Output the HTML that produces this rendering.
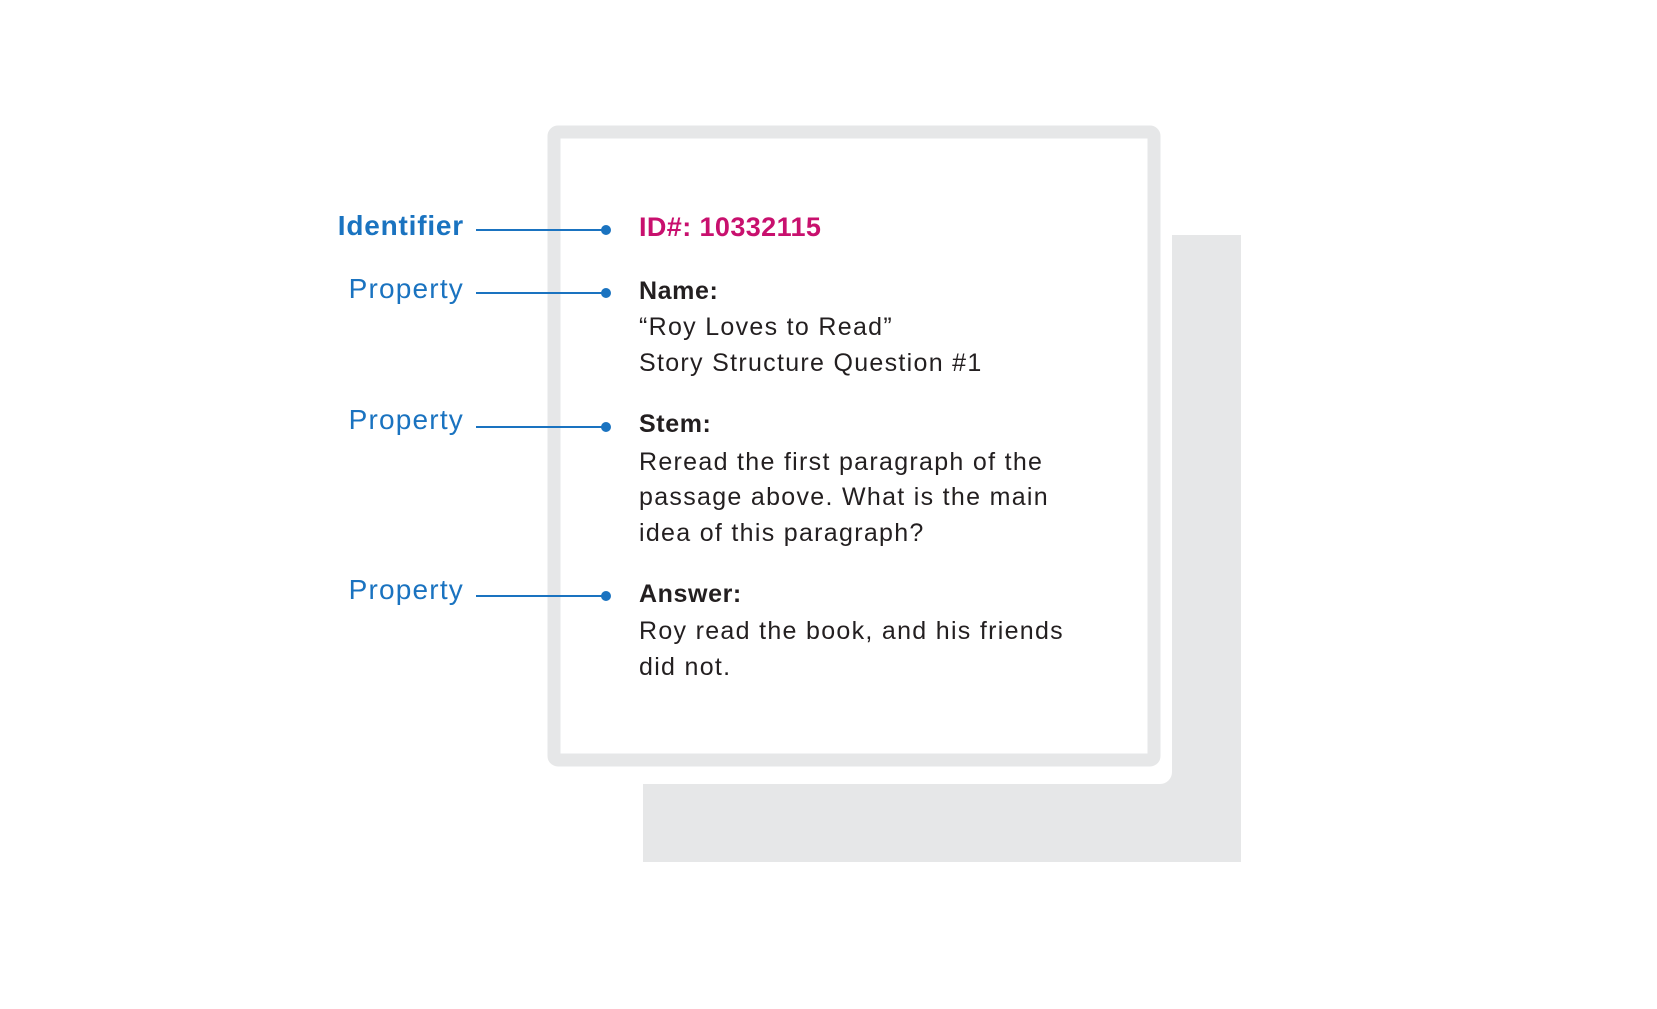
<!DOCTYPE html>
<html><head><meta charset="utf-8"><style>
html,body{margin:0;padding:0;background:#fff;}
svg{display:block;}
text{font-family:"Liberation Sans",sans-serif;}
</style></head><body>
<svg width="1657" height="1009" viewBox="0 0 1657 1009" xmlns="http://www.w3.org/2000/svg">
<rect width="1657" height="1009" fill="#fff"/>
<rect x="643" y="235" width="598" height="627" fill="#e6e7e8"/>
<rect x="530" y="100" width="642" height="684" rx="12" fill="#fff"/>
<rect x="554" y="132" width="600" height="628" rx="4" fill="#fff" stroke="#e6e7e8" stroke-width="13"/>
<g stroke="#1a73c0" stroke-width="2" fill="#1a73c0">
<line x1="476" y1="230" x2="606" y2="230"/><circle cx="606" cy="230" r="4"/>
<line x1="476" y1="293" x2="606" y2="293"/><circle cx="606" cy="293" r="4"/>
<line x1="476" y1="427" x2="606" y2="427"/><circle cx="606" cy="427" r="4"/>
<line x1="476" y1="596" x2="606" y2="596"/><circle cx="606" cy="596" r="4"/>
</g>
<g fill="#1a73c0" font-size="28" text-anchor="end">
<text x="464" y="235" font-weight="bold" letter-spacing="0.8">Identifier</text>
<text x="464" y="298" letter-spacing="1.2">Property</text>
<text x="464" y="429" letter-spacing="1.2">Property</text>
<text x="464" y="599" letter-spacing="1.2">Property</text>
</g>
<text x="639" y="236" font-size="27" font-weight="bold" fill="#c8106e" letter-spacing="0.4">ID#: 10332115</text>
<g fill="#231f20" font-size="25" letter-spacing="1.3">
<text x="639" y="299" font-weight="bold" letter-spacing="0.6">Name:</text>
<text x="639" y="335">“Roy Loves to Read”</text>
<text x="639" y="371">Story Structure Question #1</text>
<text x="639" y="432" font-weight="bold" letter-spacing="0.6">Stem:</text>
<text x="639" y="470">Reread the first paragraph of the</text>
<text x="639" y="505">passage above. What is the main</text>
<text x="639" y="541">idea of this paragraph?</text>
<text x="639" y="602" font-weight="bold" letter-spacing="0.6">Answer:</text>
<text x="639" y="639">Roy read the book, and his friends</text>
<text x="639" y="675">did not.</text>
</g>
</svg>
</body></html>
